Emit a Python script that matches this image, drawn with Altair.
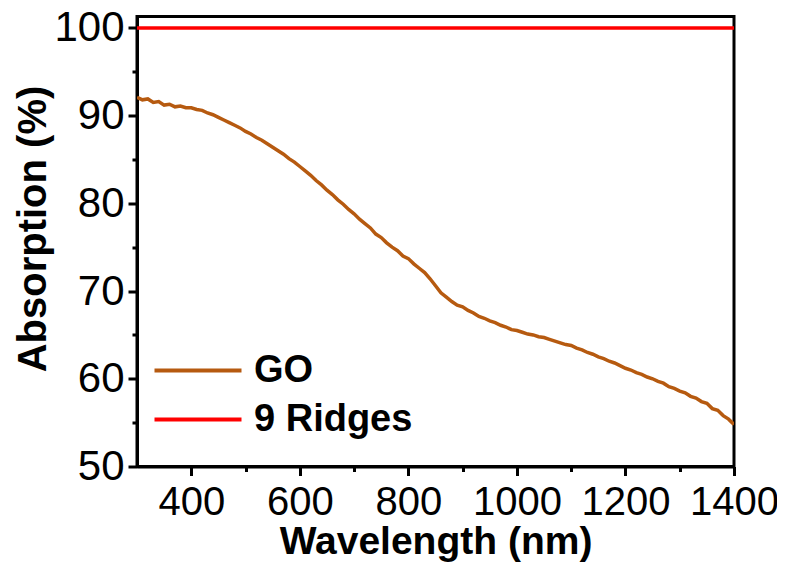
import altair as alt
import pandas as pd

wavelength = list(range(300, 1401, 10))
go_absorption = [
    92.1, 91.8, 91.9, 91.5, 91.6, 91.2, 91.3, 91.0, 91.1, 90.9,
    90.9, 90.7, 90.6, 90.3, 90.1, 89.8, 89.5, 89.2, 88.9, 88.6,
    88.2, 87.9, 87.5, 87.2, 86.8, 86.4, 86.0, 85.6, 85.1, 84.7,
    84.2, 83.7, 83.2, 82.6, 82.1, 81.5, 81.0, 80.4, 79.9, 79.3,
    78.8, 78.2, 77.7, 77.2, 76.5, 76.1, 75.5, 75.0, 74.6, 74.0,
    73.7, 73.1, 72.6, 72.1, 71.4, 70.6, 69.8, 69.3, 68.8, 68.4,
    68.2, 67.8, 67.5, 67.1, 66.9, 66.6, 66.4, 66.1, 65.9, 65.6,
    65.5, 65.3, 65.1, 65.0, 64.8, 64.7, 64.5, 64.3, 64.1, 63.9,
    63.8, 63.5, 63.3, 63.0, 62.8, 62.5, 62.3, 62.0, 61.8, 61.5,
    61.2, 61.0, 60.7, 60.5, 60.2, 60.0, 59.7, 59.5, 59.1, 58.9,
    58.6, 58.4, 58.0, 57.8, 57.4, 57.2, 56.6, 56.4, 55.8, 55.4,
    54.8,
]
ridges_wavelength = [300, 1400]
ridges_absorption = [100, 100]

series_names = ["GO", "9 Ridges"]
series_colors = ["#B65A10", "#FF0000"]

x_ticks = list(range(400, 1401, 100))
y_ticks = list(range(50, 101, 5))

df = pd.concat([
    pd.DataFrame({"Wavelength": wavelength, "Absorption": go_absorption, "Series": "GO"}),
    pd.DataFrame({"Wavelength": ridges_wavelength, "Absorption": ridges_absorption, "Series": "9 Ridges"}),
])

FONT = "Liberation Sans"

x_axis = alt.Axis(
    values=x_ticks, format="d",
    labelExpr="datum.value % 200 === 0 ? datum.label : ''",
    title="Wavelength (nm)",
    titleFontSize=39, titleFontWeight="bold", titleFont=FONT, titleColor="black",
    titlePadding=0,
    labelFontSize=40, labelFont=FONT, labelColor="black", labelPadding=7,
    labelFlush=False, labelOverlap=False,
    tickSize={"condition": {"test": "datum.value % 200 === 0", "value": 9}, "value": 5},
    tickWidth=3, tickColor="black",
    domainWidth=3, domainColor="black", grid=False,
)
y_axis = alt.Axis(
    values=y_ticks, format="d",
    labelExpr="datum.value % 10 === 0 ? datum.label : ''",
    title="Absorption (%)",
    titleFontSize=40, titleFontWeight="bold", titleFont=FONT, titleColor="black",
    titlePadding=0, titleY=212,
    labelFontSize=42, labelFont=FONT, labelColor="black", labelPadding=4,
    labelFlush=False, labelOverlap=False,
    tickSize={"condition": {"test": "datum.value % 10 === 0", "value": 9}, "value": 5},
    tickWidth=3, tickColor="black",
    domainWidth=3, domainColor="black", grid=False,
)

chart = alt.Chart(df).mark_line(strokeWidth=3.5, clip=True).encode(
    x=alt.X("Wavelength:Q", scale=alt.Scale(domain=[300, 1400], nice=False, zero=False), axis=x_axis),
    y=alt.Y("Absorption:Q", scale=alt.Scale(domain=[50, 101.3], nice=False, zero=False), axis=y_axis),
    color=alt.Color(
        "Series:N",
        scale=alt.Scale(domain=series_names, range=series_colors),
        legend=alt.Legend(
            title=None, orient="none", legendX=37, legendY=330,
            symbolType="M-2,0H2", symbolSize=1892, symbolStrokeWidth=4,
            labelFontSize=38, labelFontWeight="bold", labelFont=FONT, labelColor="black",
            labelOffset=32, rowPadding=6, padding=0,
        ),
    ),
    detail="Series:N",
).properties(
    width=597, height=450,
    autosize=alt.AutoSizeParams(type="none"),
    padding={"left": 129, "top": 8.5, "right": 43, "bottom": 100},
).configure_view(stroke="black", strokeWidth=3)

chart.save("out.html", embed_options={"renderer": "svg", "actions": False})
